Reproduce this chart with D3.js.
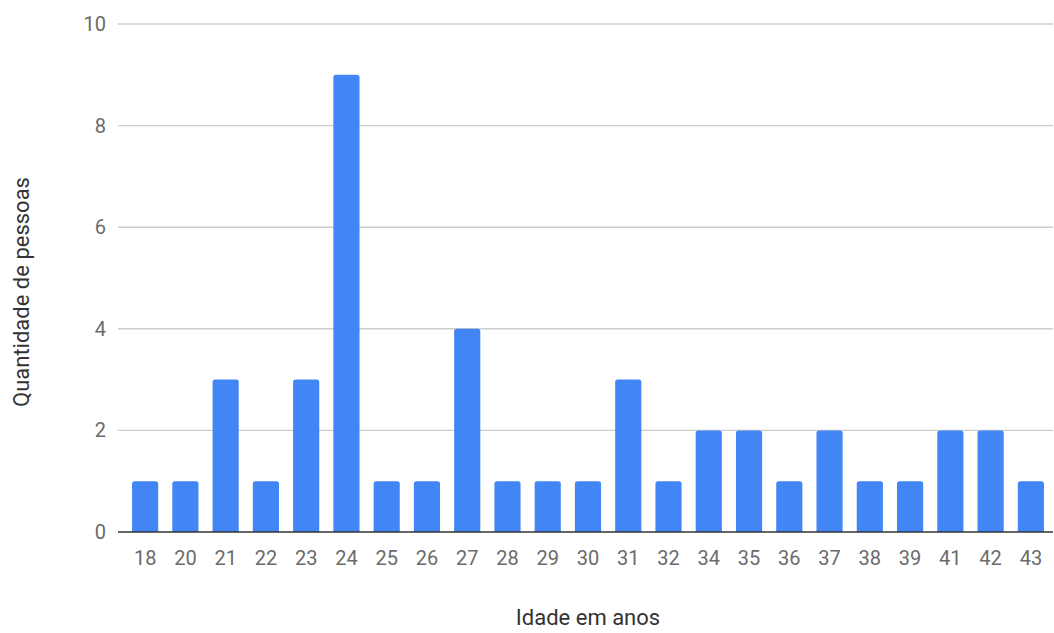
<!DOCTYPE html>
<html lang="pt">
<head>
<meta charset="UTF-8">
<title>Idade</title>
<style>
  body { margin: 0; background: #fff; }
  #SVG { display: block; background: #fff; }
  text { font-family: Roboto, "Noto Sans", sans-serif; }
</style>
</head>
<body>
<svg id="SVG"></svg>
<script src="https://d3js.org/d3.v7.min.js"></script>
<script>
// dados
var idades = ["18", "20", "21", "22", "23", "24", "25", "26", "27", "28", "29", "30",
              "31", "32", "34", "35", "36", "37", "38", "39", "41", "42", "43"];
var pessoas = [1, 1, 3, 1, 3, 9, 1, 1, 4, 1, 1, 1, 3, 1, 2, 2, 1, 2, 1, 1, 2, 2, 1];
var yTicks = [0, 2, 4, 6, 8, 10];

var width = 1054, height = 633;
var mLeft = 125, mRight = 1051, mTop = 24, mBottom = 532;

var svg = d3.select("#SVG").attr("width", width).attr("height", height);

var x = d3.scaleBand().domain(idades).range([mLeft, mRight]).paddingInner(0.35).paddingOuter(0.175);
var y = d3.scaleLinear().domain([0, 10]).range([mBottom, mTop]);

// linhas de grade
svg.append("g").selectAll("line")
  .data(yTicks.filter(d => d > 0))
  .enter().append("line")
  .attr("x1", 118).attr("x2", 1053)
  .attr("y1", d => y(d)).attr("y2", d => y(d))
  .attr("stroke", "#cccccc").attr("stroke-width", 1.4);

// eixo Y (só rótulos)
var axisY = d3.axisLeft(y).tickValues(yTicks).tickSize(0).tickPadding(0);
var gy = svg.append("g").attr("transform", "translate(106,0)").call(axisY);
gy.select(".domain").remove();
gy.selectAll("text").attr("font-size", 20).attr("fill", "#6b6b6b")
  .style("font-family", "Roboto, sans-serif");

// barras
function barPath(d, i) {
  var x0 = x(idades[i]), w = x.bandwidth();
  var y0 = y(d), y1 = y(0), r = 2.5;
  return "M" + x0 + "," + y1 + "V" + (y0 + r) + "Q" + x0 + "," + y0 + " " + (x0 + r) + "," + y0 +
    "H" + (x0 + w - r) + "Q" + (x0 + w) + "," + y0 + " " + (x0 + w) + "," + (y0 + r) + "V" + y1 + "Z";
}
svg.append("g").selectAll("path")
  .data(pessoas)
  .enter().append("path")
  .attr("d", barPath)
  .attr("fill", "#4285f4");

// linha de base
svg.append("line")
  .attr("x1", 118).attr("x2", 1053)
  .attr("y1", y(0)).attr("y2", y(0))
  .attr("stroke", "#333333").attr("stroke-width", 1.6);

// eixo X
var axisX = d3.axisBottom(x).tickSize(0).tickPadding(0);
var gx = svg.append("g").attr("transform", "translate(0," + (mBottom + 33) + ")").call(axisX);
gx.select(".domain").remove();
gx.selectAll("text").attr("dy", 0).attr("y", 0).attr("font-size", 20).attr("fill", "#6b6b6b")
  .style("font-family", "Roboto, sans-serif");

// títulos
svg.append("text")
  .attr("x", (mLeft + mRight) / 2).attr("y", 625)
  .attr("text-anchor", "middle")
  .attr("font-size", 22).attr("fill", "#333333")
  .text("Idade em anos");

svg.append("text")
  .attr("transform", "translate(29,292) rotate(-90)")
  .attr("text-anchor", "middle")
  .attr("font-size", 22).attr("fill", "#333333")
  .text("Quantidade de pessoas");
</script>
</body>
</html>
